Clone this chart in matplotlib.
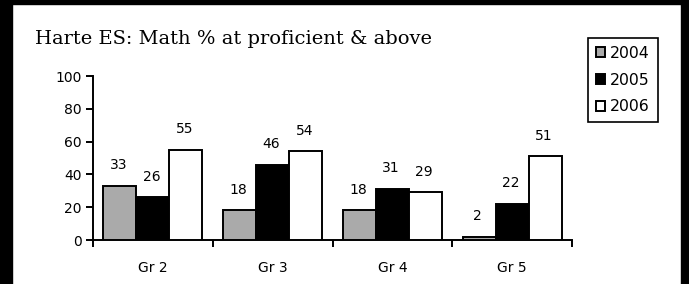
import numpy as np
import matplotlib.pyplot as plt
from matplotlib.patches import Rectangle
from matplotlib.ticker import FixedLocator

# data
grades = ["Gr 2", "Gr 3", "Gr 4", "Gr 5"]
years = ["2004", "2005", "2006"]
pct_2004 = [33, 18, 18, 2]
pct_2005 = [26, 46, 31, 22]
pct_2006 = [55, 54, 29, 51]

series = [pct_2004, pct_2005, pct_2006]
colors = ["#aaaaaa", "#000000", "#ffffff"]

plt.rcParams["font.family"] = ["DejaVu Sans"]

fig = plt.figure(figsize=(6.89, 2.84), dpi=100)
W, H = 689, 284
ax = fig.add_axes([93 / W, 44 / H, (572 - 93) / W, 164 / H])

x = np.arange(len(grades))
width = 0.276
for i, (vals, col) in enumerate(zip(series, colors)):
    pos = x + (i - 1) * width
    bars = ax.bar(pos, vals, width, color=col, edgecolor="black",
                  linewidth=1.4, label=years[i], zorder=3)
    for b, v in zip(bars, vals):
        ax.annotate(str(v), (b.get_x() + b.get_width() / 2, v),
                    xytext=(-1, 15), textcoords="offset points",
                    ha="center", va="center", fontsize=10)

ax.set_xlim(-0.5, 3.5)
ax.set_ylim(0, 100)
ax.set_yticks([0, 20, 40, 60, 80, 100])
ax.set_xticks(x)
ax.set_xticklabels(grades, fontsize=10)
ax.xaxis.set_minor_locator(FixedLocator([-0.5, 0.5, 1.5, 2.5, 3.5]))
ax.tick_params(axis="x", which="major", length=0, pad=15)
ax.tick_params(axis="x", which="minor", length=5, width=1.4, direction="out")
ax.tick_params(axis="y", length=5, width=1.4, labelsize=10, pad=3)
for s in ["top", "right"]:
    ax.spines[s].set_visible(False)
for s in ["left", "bottom"]:
    ax.spines[s].set_linewidth(1.4)

fig.text(35 / W, 1 - 44 / H, "Harte ES: Math % at proficient & above",
         family=["DejaVu Serif"], fontsize=14, va="baseline", ha="left")

leg = fig.legend(loc="upper left", bbox_to_anchor=(588 / W, 1 - 38 / H),
                 fancybox=False, edgecolor="black", framealpha=1,
                 fontsize=11.3, handlelength=0.6, handleheight=0.6,
                 handletextpad=0.3, labelspacing=0.75, borderpad=0.5,
                 borderaxespad=0)
leg.get_frame().set_linewidth(1.2)

# thick black frame around the picture
fig.patches.append(Rectangle((0, 0), 12 / W, 1, transform=fig.transFigure,
                             color="black", zorder=10))
fig.patches.append(Rectangle((0, 1 - 4 / H), 1, 4 / H, transform=fig.transFigure,
                             color="black", zorder=10))
fig.patches.append(Rectangle((681 / W, 0), 8 / W, 1, transform=fig.transFigure,
                             color="black", zorder=10))

fig.savefig("out.png", dpi=100)
